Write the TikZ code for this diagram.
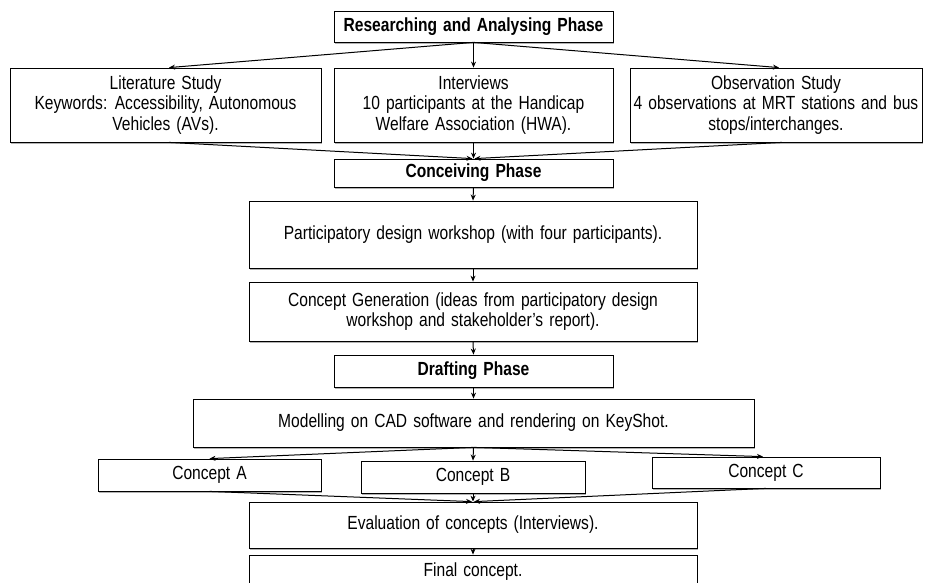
\documentclass[tikz,border=0pt]{standalone}
\usepackage{fontspec}
\setmainfont[FakeStretch=0.82,WordSpace=1.4]{Liberation Sans}
\usetikzlibrary{arrows.meta,shadows}
\tikzset{
  box/.style={draw=black,line width=0.8pt,fill=white,inner sep=0pt,align=center,
    font=\fontsize{19}{20.5}\selectfont,
    general shadow={fill=gray!60,shadow xshift=1pt,shadow yshift=-2pt}},
  phase/.style={box,font=\fontsize{19}{20.5}\selectfont\bfseries},
  arr/.style={line width=1pt,-{Stealth[length=6pt,width=5pt]}},
}
\begin{document}
\begin{tikzpicture}[x=1pt,y=-1pt]
\clip (0,0) rectangle (929,583);
\fill[white] (0,0) rectangle (929,583);
\node[phase,minimum width=279pt,minimum height=31pt] (R) at (473.5,26.5) {Researching and Analysing Phase};
\node[box,minimum width=311pt,minimum height=74pt] (Lit) at (165.5,105) {Literature Study\\Keywords: Accessibility, Autonomous\\Vehicles (AVs).};
\node[box,minimum width=279pt,minimum height=74pt] (Int) at (473.5,105) {Interviews\\10 participants at the Handicap\\Welfare Association (HWA).};
\node[box,minimum width=292pt,minimum height=74pt] (Obs) at (776,105) {Observation Study\\4 observations at MRT stations and bus\\stops/interchanges.};
\node[phase,minimum width=279pt,minimum height=28pt] (Conc) at (473.5,173) {Conceiving Phase};
\node[box,minimum width=448pt,minimum height=67pt] (Part) at (473,234.5) {Participatory design workshop (with four participants).};
\node[box,minimum width=448pt,minimum height=59pt] (Gen) at (473,311.5) {Concept Generation (ideas from participatory design\\workshop and stakeholder’s report).};
\node[phase,minimum width=279pt,minimum height=32pt] (Draft) at (473.5,371) {Drafting Phase};
\node[box,minimum width=561pt,minimum height=48pt] (Model) at (473.5,423) {Modelling on CAD software and rendering on KeyShot.};
\node[box,minimum width=223pt,minimum height=32pt] (CA) at (209.5,475) {Concept A};
\node[box,minimum width=224pt,minimum height=32pt] (CB) at (473,477) {Concept B};
\node[box,minimum width=228pt,minimum height=31pt] (CC) at (766,472.5) {Concept C};
\node[box,minimum width=448pt,minimum height=46pt] (Eval) at (473,525) {Evaluation of concepts (Interviews).};
\node[box,minimum width=448pt,minimum height=34pt] (Fin) at (473,572) {Final concept.};
% arrows
\draw[arr] (R.south) -- ([xshift=3.5pt]Lit.north);
\draw[arr] (R.south) -- (Int.north);
\draw[arr] (R.south) -- ([xshift=3pt]Obs.north);
\draw[arr] ([xshift=3.5pt]Lit.south) -- ([xshift=-1pt]Conc.north);
\draw[arr] (Int.south) -- (Conc.north);
\draw[arr] ([xshift=6pt]Obs.south) -- ([xshift=1pt]Conc.north);
\draw[arr] (Conc.south) -- (Part.north);
\draw[arr] (Part.south) -- (Gen.north);
\draw[arr] (Gen.south) -- (Draft.north);
\draw[arr] (Draft.south) -- (Model.north);
\draw[arr] (Model.south) -- (CA.north);
\draw[arr] (Model.south) -- (CB.north);
\draw[arr] (Model.south) -- ([xshift=-3pt]CC.north);
\draw[arr] (CA.south) -- ([xshift=-1pt]Eval.north);
\draw[arr] (CB.south) -- (Eval.north);
\draw[arr] (CC.south) -- ([xshift=1pt]Eval.north);
\draw[arr] (Eval.south) -- (Fin.north);
\end{tikzpicture}
\end{document}
